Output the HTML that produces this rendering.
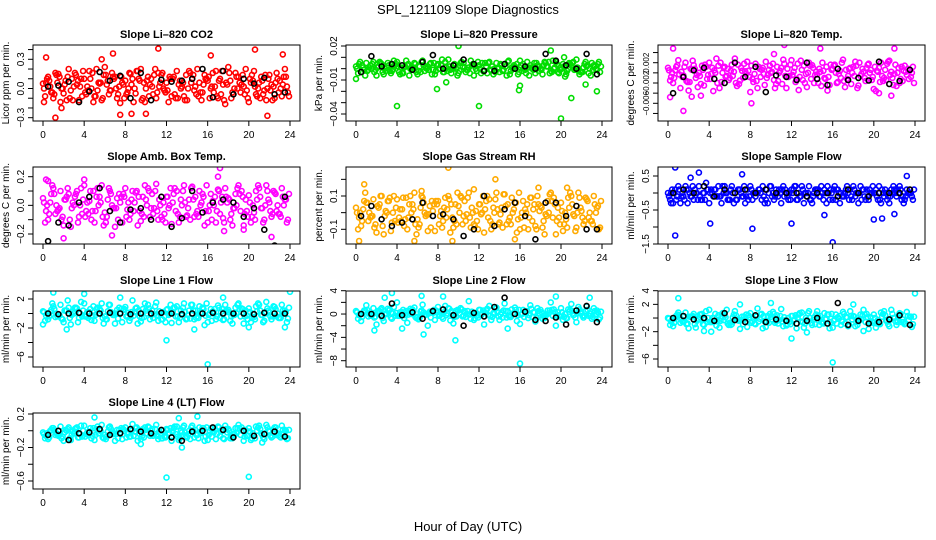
<!DOCTYPE html>
<html><head><meta charset="utf-8">
<style>
html,body{margin:0;padding:0;background:#fff;}
svg{display:block;font-family:"Liberation Sans",sans-serif;}
</style></head>
<body>
<svg id="chart" width="936" height="540" viewBox="0 0 936 540">
<text x="468" y="14" text-anchor="middle" font-size="13">SPL_121109  Slope Diagnostics</text>
<text x="468" y="531" text-anchor="middle" font-size="13">Hour of Day (UTC)</text>
</svg>
<script>
// ---- data (values in stated units per panel) ----
const xTicks=[0,4,8,12,16,20,24];
// CO2, unit 0.01 ppm/min
const co2A=[5,12,-10,15,-5,20,2,-12,10,18,-8,5,22,-2,12,-15,8,15,-5,20,0,10,-10,14,6,-8,18,2,-12,10,20,-4,8,16,-10,4,22,-6,12,2,-14,18,6,-2,14,-10,8,20];
const co2B=[-8,2,16,-14,8,-2,14,10,-6,0,20,-12,4,16,-10,6,-4,10,18,-10,12,-6,16,0,-14,12,4,-8,18,-2,6,14,-10,2,10,-16,8,16,-4,20,6,-6,12,-12,4,16,-8,2];
const co2C=[10,-4,6,0,12,-12,8,18,-2,-14,6,14,-6,10,2,-10,16,0,8,-14,4,20,6,-4,10,-10,0,14,6,-6,-12,10,2,-8,18,4,-4,0,14,-10,8,0,-6,10,2,-4,12,-8];
const co2D=[0,8,-6,12,4,-10,16,2,-4,10,-8,6,14,-2,0,12,-6,4,18,-12,8,2,-4,16,-2,10,-10,6,0,14,-8,4,12,-4,8,-12,16,0,6,-6,10,2,-10,14,-2,6,0,12];
const co2E=[6,-4,14,0,-12,10,4,-8,2,16,-2,-10,8,12,-6,4,0,-14,10,6,-8,14,2,-2,12,-6,8,-12,16,2,-4,10,0,18,-6,6,-10,12,4,-2,14,-8,8,0,-12,10,4,-4];
const co2Blk=[2,3,7,-14,-3,17,8,13,-10,16,-12,9,7,8,10,20,-9,18,-6,10,5,11,-6,-4];
const co2OutT=[1.2,0.3,6.8,11.2,20.6,21.8,7.5,1.8,16.3,8.6,10,5.7,0.1,23.3];
const co2OutV=[-30,32,36,41,40,-28,-27,-20,34,-26,-26,30,-14,35];
// Pressure, unit 0.001 kPa/min
const presA=[2,-3,5,0,-6,4,1,-2,6,-4,3,0,-5,7,2,-1,4,-3,8,0,-4,5,1,-6,3,-2,6,0,-3,4,-5,2,7,-1,3,-4,0,5,-2,6,1,-5,3,8,-3,2,5,-1];
const presB=[-4,1,-1,6,2,-5,3,7,-3,1,-6,5,2,-2,4,-5,0,6,-1,3,5,-3,7,0,-4,2,-1,5,3,-6,1,4,-2,6,0,3,-5,2,7,-3,4,0,6,-2,1,-4,3,6];
const presC=[6,-6,3,-1,5,-2,-4,4,1,7,-1,-3,6,0,-5,3,8,-2,1,-6,2,-1,4,6,-2,5,-5,1,-1,7,3,-3,0,-6,5,2,6,-4,1,-1,-7,4,0,-3,6,-6,0,2];
const presD=[0,3,-2,4,1,-3,5,-1,2,-4,4,1,-2,3,-1,5,0,-3,2,4,-2,1,-4,3,0,5,-1,-3,4,2,-2,0,3,-4,1,5,-1,2,-3,4,0,-2,5,1,-3,3,-1,4];
const presE=[4,-1,1,-3,6,0,-2,3,-5,2,0,4,-3,1,5,-2,3,1,-4,0,6,-1,3,-2,5,-4,2,0,-2,6,0,-5,4,1,-1,-2,3,6,0,-4,2,5,-1,-5,4,0,2,-3];
const presBlk=[-3,11,2,4,3,-1,6,12,0,3,8,4,-2,-2,4,0,2,0,13,7,3,0,13,-5];
const presOutT=[4,12,20,21,7.9,10,19,0,23.5,16,8.8,20.3,15.9,22.4];
const presOutV=[-33,-33,-44,-26,-18,20,16,-9,-20,-15,-12,10,-19,-14];
// Li-820 temp, unit 0.0001 C/min
const tempA=[10,-20,25,-5,-35,15,0,-25,20,5,-30,12,-10,28,-15,3,-38,18,-8,22,0,-22,10,-30,25,-12,6,-28,15,-3,20,-35,8,-18,26,-6,12,-25,2,18,-32,10,-10,24,-2,-20,14,5];
const tempB=[-15,5,-30,20,8,-10,-22,12,-2,28,-18,-6,16,-26,4,22,-12,-30,10,-4,18,-16,26,-8,2,-34,14,20,-20,8,-10,-24,16,4,-28,10,22,-6,-16,6,-36,20,-14,2,-26,12,-4,0];
const tempC=[0,15,-8,-18,24,-28,6,-4,-36,14,10,-14,2,-22,18,-8,-2,8,-24,14,-30,4,-6,16,-18,24,-2,-12,2,-26,12,6,-20,20,-12,0,-30,8,16,-8,2,-16,22,-24,10,4,-12,-20];
const tempD=[5,-10,-3,12,-18,8,-6,16,-12,0,20,-8,4,-20,10,-2,14,-16,6,-10,2,12,-22,8,-4,18,-14,0,10,-20,4,-8,14,-2,-16,8,-6,20,-10,0,12,-18,6,-4,16,-12,2,-8];
const tempE=[-8,12,2,-16,6,-4,14,-12,10,-20,0,8,-6,16,-10,4,-18,12,-2,6,-14,0,18,-6,10,-8,-20,14,-4,2,-12,16,0,-10,6,-22,14,-2,10,-14,4,-6,18,-10,0,-16,8,12];
const tempBlk=[-40,-8,5,10,-12,-20,20,-8,12,-38,-5,-8,-14,20,-12,-24,8,-14,-10,-15,22,-22,-16,6];
const tempOutT=[1.5,7.6,8.1,11.3,0.5,22,0.2,2.3,3.2,21.7,20.5,14.8,10.3];
const tempOutV=[-75,65,-60,55,48,48,-48,-47,-45,-45,-40,48,37];
// Amb box temp, unit 0.01 C/min
const ambA=[5,-10,12,-3,-14,8,0,-8,14,3,-12,6,-5,10,-15,2,12,-6,9,-11,4,-2,15,-8,6,-13,10,0,-7,13,-4,8,-12,3,11,-9,5,-2,14,-14,7,-5,12,-10,2,9,-6,4];
const ambB=[-12,2,-6,10,4,-15,8,12,-4,-10,6,14,-8,0,5,-12,-3,10,-14,6,12,-6,-10,2,-2,8,-12,14,4,-8,10,-14,0,6,-6,12,-10,8,-4,4,-12,10,-2,14,-8,-4,12,-12];
const ambC=[0,14,-4,-8,12,2,-12,4,-6,10,0,-14,12,-2,8,6,-10,2,-4,14,-8,10,0,-12,12,-4,4,-8,12,-6,2,14,-10,-4,6,2,-14,12,6,-8,0,14,-12,4,10,-6,0,8];
const ambD=[2,-6,8,-2,4,-10,6,0,-8,10,-4,2,-12,8,-2,6,-8,4,10,-6,0,8,-4,-10,6,2,-6,10,-2,4,-8,6,-4,0,10,-12,4,-2,8,-6,2,-10,6,0,-4,8,-8,4];
const ambE=[-4,8,0,-10,6,-2,10,-6,2,-4,12,-8,4,-2,-10,8,2,-4,6,-8,10,-2,4,-6,0,12,-8,2,-10,6,0,-4,8,-12,2,6,-6,0,10,-4,-8,4,-2,10,-6,0,6,-10];
const ambBlk=[-25,-12,-14,2,6,12,-4,-12,-3,-2,-10,6,-15,-9,10,-5,2,4,2,-8,-2,-17,-28,6];
const ambOutT=[2,6.7,17.2,22.2,0.3,17,17.6,19.5,4,0.5];
const ambOutV=[-23,-21,26,-22,18,20,-18,-17,18,17];
// Gas stream RH, unit 0.01 %/min
const rhA=[3,-8,6,-2,-12,10,0,-6,8,2,-10,5,-4,9,-11,1,7,-5,10,-9,4,-2,12,-7,5,-12,8,0,-6,11,-3,6,-10,2,9,-8,4,-1,12,-13,6,-4,10,-9,1,8,-5,3];
const rhB=[-10,2,-5,8,3,-13,7,10,-3,-8,5,12,-7,0,4,-11,-2,9,-12,5,10,-5,-9,1,-1,7,-10,12,3,-7,9,-12,0,5,-5,10,-9,7,-3,3,-11,9,-1,12,-7,-3,10,-10];
const rhC=[0,12,-3,-7,10,1,-11,3,-5,9,0,-13,10,-1,7,5,-9,2,-3,12,-7,9,0,-10,10,-3,3,-7,11,-5,2,12,-9,-3,5,1,-13,11,5,-7,0,12,-11,3,9,-5,0,7];
const rhD=[0,-5,6,-2,4,-8,7,0,-6,9,-3,2,-9,6,-1,5,-7,3,8,-5,0,7,-3,-8,5,2,-5,8,-1,4,-7,6,-3,0,9,-10,3,-2,7,-5,1,-9,5,0,-3,7,-7,4];
const rhE=[-3,7,0,-9,5,-2,9,-5,2,-4,10,-7,3,-2,-9,7,1,-3,5,-7,9,-1,3,-5,0,10,-7,2,-9,5,0,-4,7,-10,2,5,-5,0,9,-3,-7,3,-2,9,-5,0,5,-9];
const rhBlk=[-2,4,-4,-8,-6,-4,6,-2,-1,-4,-14,-10,10,-8,2,6,-2,-16,6,6,-2,4,-10,-10];
const rhOutT=[9,13.6,0.8,0.3,5.7,9.4,6.4,17.8,20.6,15.5,11.5];
const rhOutV=[27,20,17,-17,-17,-17,13,15,15,-16,14];
// Sample flow, unit 0.1 ml/min/min
const smpA=[0,-3,2,-1,1,-2,2,0,-3,1,-1,2,-2,0,1,-3,2,-1,0,-2,2,1,-3,0,1,-2,2,-1,-3,1,0,2,-2,1,-1,0,2,-3,1,-2,0,2,-1,-3,1,2,-2,0];
const smpB=[-2,1,-3,2,-1,0,-2,3,1,-1,-3,0,2,-2,-1,1,-2,0,2,-3,0,-1,2,-2,1,0,-3,2,0,-1,1,-2,2,-3,0,1,-1,2,-2,0,1,-3,0,1,-1,-2,1,-1];
const smpC=[1,-1,0,-3,2,-2,0,1,-1,2,0,-2,-3,1,2,-1,0,1,-3,2,-1,0,1,-2,2,-1,0,-2,1,2,-3,0,1,-1,2,-2,0,1,-1,2,-2,0,-1,2,0,-3,0,1];
const smpD=[-1,0,1,-2,0,1,-1,-2,0,1,-1,0,1,-2,0,-1,1,0,-2,1,-1,0,1,-1,0,-2,1,0,-1,1,-2,0,1,0,-1,-2,1,0,-1,1,0,-2,1,-1,0,1,-1,0];
const smpE=[0,-2,-1,1,-1,0,-2,1,0,-1,2,-2,0,1,-1,-2,0,1,-1,0,-2,1,-1,0,2,-1,0,-2,1,-1,0,1,-2,0,1,-1,0,-2,1,0,-1,1,-2,0,1,-1,0,-2];
const smpBlk=[0,1,0,2,-1,1,0,1,0,1,0,0,0,-1,0,0,-1,1,0,-1,0,0,0,1];
const smpOutT=[0.7,4.1,8.2,12,15.2,16,20,20.8,22,0.7,3,7.2,23.2,2.2,0.3];
const smpOutV=[-12.5,-9,-10.5,-9,-6.5,-14.5,-7.8,-7.5,-6.2,7.5,6,5.5,5,4.5,-3];
// Line 1 flow, unit 0.1
const l1A=[3,-8,10,-2,-12,8,0,-6,14,2,-10,6,-4,12,-14,1,9,-6,7,-11,4,-2,15,-8,5,-13,10,0,-7,12,-4,8,-12,3,11,-9,5,-2,14,-14,7,-5,12,-10,2,9,-6,4];
const l1B=[-10,2,-5,12,4,-15,8,16,-4,-9,6,14,-8,0,5,-12,-3,18,-14,6,12,-6,-10,2,-2,8,-12,14,4,-8,10,-16,0,6,-6,12,-10,8,-4,4,-12,10,-2,16,-8,-4,12,-12];
const l1C=[0,14,-4,-8,18,2,-12,4,-6,10,0,-14,12,-2,8,6,-10,2,-4,14,-8,10,0,-12,12,-4,4,-8,12,-6,2,14,-10,-4,6,2,-14,12,6,-8,0,14,-12,4,10,-6,0,8];
const l1D=[2,-4,6,-2,4,-6,8,0,-4,6,-2,4,-8,2,0,6,-4,2,8,-6,0,4,-2,-8,6,2,-4,8,-2,4,-6,6,-2,0,8,-8,2,-2,6,-4,2,-8,4,0,-4,6,-6,2];
const l1E=[-3,5,0,-7,4,-2,7,-4,2,-3,8,-6,3,-2,-7,5,1,-3,4,-5,7,-1,3,-4,0,8,-6,2,-7,4,0,-3,6,-8,2,4,-4,0,7,-3,-6,3,-2,7,-4,0,4,-7];
const l1Blk=[0,-1,0,1,0,0,1,0,-1,0,0,1,0,-1,0,0,1,0,0,0,-1,1,0,0];
const l1OutT=[12,16,1,24,4,2.3,14.7,0,23.5,20,7.5,17.5];
const l1OutV=[-37,-70,29,30,27,-22,-22,-15,-19,-19,22,22];
// Line 2 flow, unit 0.1
const l2A=[5,-12,15,-3,-18,10,0,-8,20,3,-15,8,-5,16,-20,2,12,-8,10,-16,6,-3,22,-10,7,-18,14,0,-10,18,-5,11,-17,4,15,-13,7,-3,20,-20,10,-7,17,-14,3,13,-8,6];
const l2B=[-8,3,-4,10,4,-12,6,12,-3,-7,5,11,-6,0,4,-10,-2,14,-11,5,10,-5,-8,2,-2,6,-10,11,3,-6,8,-12,0,5,-5,10,-8,6,-3,3,-10,8,-2,12,-6,-3,10,-9];
const l2C=[0,6,-2,-4,8,1,-6,2,-3,5,0,-7,6,-1,4,3,-5,1,-2,7,-4,5,0,-6,6,-2,2,-4,6,-3,1,7,-5,-2,3,1,-7,6,3,-4,0,7,-6,2,5,-3,0,4];
const l2D=[3,-5,7,-1,5,-7,9,1,-3,7,-1,5,-9,3,1,7,-3,3,9,-5,1,5,-1,-7,7,3,-3,9,-1,5,-5,7,-1,1,9,-7,3,-1,7,-3,3,-7,5,1,-3,7,-5,3];
const l2E=[-2,6,1,-6,5,-1,8,-3,3,-2,9,-5,4,-1,-6,6,2,-2,5,-4,8,0,4,-3,1,9,-5,3,-6,5,1,-2,7,-7,3,5,-3,1,8,-2,-5,4,-1,8,-3,1,5,-6];
const l2Blk=[0,0,-3,18,-2,3,-8,5,8,-2,-20,2,-4,12,28,0,4,-10,-12,-6,-18,6,14,-14];
const l2OutT=[16,9.7,3.5,4.5,6.6,1.8,14.8,19.5,2.8,8.5,6.4,22.8];
const l2OutV=[-85,-45,36,-25,-35,-28,-25,30,28,30,31,28];
// Line 3 flow, unit 0.1
const l3A=[0,-12,8,-5,-15,6,-2,-10,12,0,-14,4,-7,10,-16,-1,7,-9,5,-13,2,-5,13,-11,3,-15,8,-3,-10,10,-7,5,-14,1,9,-12,3,-5,12,-16,5,-8,10,-12,0,7,-9,2];
const l3B=[-10,0,-7,8,2,-14,5,10,-6,-11,3,12,-9,-3,2,-13,-5,14,-15,3,9,-8,-12,0,-4,5,-14,10,1,-10,7,-15,-2,3,-8,10,-12,5,-6,1,-14,8,-4,12,-10,-6,9,-13];
const l3C=[-3,5,-5,-8,3,-1,-9,0,-6,4,-3,-10,5,-4,2,1,-8,-1,-5,6,-7,3,-3,-9,4,-5,0,-7,5,-6,-1,6,-8,-5,1,-2,-10,4,1,-7,-3,6,-9,0,3,-6,-3,2];
const l3D=[-1,-7,4,-4,2,-9,5,-2,-6,6,-4,1,-10,4,-3,5,-7,2,6,-6,-2,4,-5,-9,3,0,-6,7,-3,2,-8,5,-4,-1,6,-10,2,-3,5,-6,0,-9,4,-2,-5,6,-8,2];
const l3E=[-5,3,-2,-9,2,-4,6,-6,0,-5,7,-8,1,-3,-9,4,-1,-5,3,-7,6,-3,1,-6,-2,7,-8,0,-9,3,-2,-6,5,-10,1,3,-6,-2,6,-5,-8,2,-4,6,-6,-2,3,-9];
const l3Blk=[0,3,-2,0,-4,7,-3,-6,4,-6,-2,-4,-8,-4,0,-8,22,-10,-4,-8,-6,-2,4,-10];
const l3OutT=[16,12,24,1,4.2,7,10,18,19,3.5,13.5];
const l3OutV=[-65,-30,36,29,-20,20,22,20,-19,-19,-21];
// Line 4 (LT) flow, unit 0.01
const l4A=[-2,-10,3,-6,-12,4,-3,-8,6,-1,-11,2,-5,5,-12,-2,4,-7,3,-10,1,-4,7,-9,2,-12,5,-2,-8,6,-5,3,-11,0,5,-9,2,-4,7,-12,3,-6,6,-10,-1,4,-7,1];
const l4B=[-9,0,-5,5,1,-11,3,6,-4,-9,2,7,-7,-2,1,-10,-4,8,-12,2,5,-6,-10,0,-3,3,-11,6,0,-8,4,-12,-1,2,-6,6,-9,3,-5,1,-11,5,-3,7,-8,-5,6,-10];
const l4C=[-3,3,-4,-7,2,-1,-8,0,-5,3,-3,-9,4,-3,1,0,-7,-1,-4,4,-6,2,-3,-8,3,-4,0,-6,4,-5,-1,4,-7,-4,1,-2,-9,3,0,-6,-3,4,-8,0,2,-5,-3,1];
const l4D=[-4,-8,1,-5,-2,-9,2,-4,-7,3,-5,0,-10,2,-4,3,-8,0,4,-7,-3,2,-6,-9,1,-2,-7,4,-4,0,-9,3,-5,-2,4,-10,0,-4,3,-7,-1,-9,2,-3,-6,4,-8,0];
const l4E=[-6,1,-3,-9,0,-5,4,-7,-2,-6,5,-8,-1,-4,-9,2,-2,-6,1,-8,4,-4,-1,-7,-3,5,-9,-2,-10,1,-3,-7,3,-10,-1,2,-7,-3,4,-6,-9,0,-5,4,-7,-3,1,-9];
const l4Blk=[-5,0,-11,-3,-2,2,-5,-3,2,-1,-3,1,-8,-12,-1,0,4,1,-8,0,-6,-4,-1,-7];
const l4OutT=[4,12,20,5,15,13.5,9.5,21.3,13.2];
const l4OutV=[-74,-56,-55,16,17,-20,-16,-14,15];

// ---- layout (not data) ----
const cols=[{l:33,r:300,x0:43,x24:290},{l:346,r:612,x0:356,x24:602},{l:658,r:925,x0:668,x24:915}];
const rows=[{t:45,b:121},{t:167,b:244},{t:291,b:367},{t:413,b:489}];
const panels=[
 {id:'co2',c:0,r:0,title:'Slope Li\u2013820 CO2',ylab:'Licor ppm per min.',col:'#ff0000',unit:0.01,v1:0.3,p1:59.3,v2:-0.3,p2:117.7,tk:[-0.3,-0.2,-0.1,0,0.1,0.2,0.3,0.4],lb:[0.3,0,-0.3],lt:['0.3','0.0','\u22120.3'],fs:10,d:[co2A,co2B,co2C,co2D,co2E],blk:co2Blk,ot:co2OutT,ov:co2OutV},
 {id:'pressure',c:1,r:0,title:'Slope Li\u2013820 Pressure',ylab:'kPa per min.',col:'#00dd00',unit:0.001,v1:0.02,p1:46,v2:-0.04,p2:114,tk:[-0.04,-0.03,-0.02,-0.01,0,0.01,0.02],lb:[0.02,-0.01,-0.04],lt:['0.02','\u22120.01','\u22120.04'],fs:10,d:[presA,presB,presC,presD,presE],blk:presBlk,ot:presOutT,ov:presOutV},
 {id:'li820-temp',c:2,r:0,title:'Slope Li\u2013820 Temp.',ylab:'degrees C per min.',col:'#ff00ff',unit:0.0001,v1:0.002,p1:62.7,v2:-0.006,p2:103.3,tk:[-0.008,-0.006,-0.004,-0.002,0,0.002,0.004],lb:[0.002,-0.002,-0.006],lt:['0.002','\u22120.002','\u22120.006'],fs:8,d:[tempA,tempB,tempC,tempD,tempE],blk:tempBlk,ot:tempOutT,ov:tempOutV},
 {id:'amb-box-temp',c:0,r:1,title:'Slope Amb. Box Temp.',ylab:'degrees C per min.',col:'#ff00ff',unit:0.01,v1:0.2,p1:176.7,v2:-0.2,p2:234,tk:[-0.2,-0.1,0,0.1,0.2],lb:[0.2,0,-0.2],lt:['0.2','0.0','\u22120.2'],fs:10,d:[ambA,ambB,ambC,ambD,ambE],blk:ambBlk,ot:ambOutT,ov:ambOutV},
 {id:'gas-stream-rh',c:1,r:1,title:'Slope Gas Stream RH',ylab:'percent per min.',col:'#ffaa00',unit:0.01,v1:0.1,p1:196,v2:-0.1,p2:229.3,tk:[-0.1,0,0.1,0.2],lb:[0.1,-0.1],lt:['0.1','\u22120.1'],fs:10,d:[rhA,rhB,rhC,rhD,rhE],blk:rhBlk,ot:rhOutT,ov:rhOutV},
 {id:'sample-flow',c:2,r:1,title:'Slope Sample Flow',ylab:'ml/min per min.',col:'#0000ff',unit:0.1,v1:0.5,p1:176,v2:-1.5,p2:244,tk:[-1.5,-1,-0.5,0,0.5],lb:[0.5,-0.5,-1.5],lt:['0.5','\u22120.5','\u22121.5'],fs:10,d:[smpA,smpB,smpC,smpD,smpE],blk:smpBlk,ot:smpOutT,ov:smpOutV},
 {id:'line1-flow',c:0,r:2,title:'Slope Line 1 Flow',ylab:'ml/min per min.',col:'#00ffff',unit:0.1,v1:2,p1:299,v2:-6,p2:357,tk:[-6,-4,-2,0,2],lb:[2,-2,-6],lt:['2','\u22122','\u22126'],fs:10,d:[l1A,l1B,l1C,l1D,l1E],blk:l1Blk,ot:l1OutT,ov:l1OutV},
 {id:'line2-flow',c:1,r:2,title:'Slope Line 2 Flow',ylab:'ml/min per min.',col:'#00ffff',unit:0.1,v1:4,p1:290.7,v2:-8,p2:360.7,tk:[-8,-6,-4,-2,0,2,4],lb:[4,0,-4,-8],lt:['4','0','\u22124','\u22128'],fs:10,d:[l2A,l2B,l2C,l2D,l2E],blk:l2Blk,ot:l2OutT,ov:l2OutV},
 {id:'line3-flow',c:2,r:2,title:'Slope Line 3 Flow',ylab:'ml/min per min.',col:'#00ffff',unit:0.1,v1:4,p1:290.7,v2:-6,p2:359,tk:[-6,-4,-2,0,2,4],lb:[4,2,-2,-6],lt:['4','2','\u22122','\u22126'],fs:10,d:[l3A,l3B,l3C,l3D,l3E],blk:l3Blk,ot:l3OutT,ov:l3OutV},
 {id:'line4-flow',c:0,r:3,title:'Slope Line 4 (LT) Flow',ylab:'ml/min per min.',col:'#00ffff',unit:0.01,v1:0.2,p1:414,v2:-0.6,p2:481,tk:[-0.6,-0.4,-0.2,0,0.2],lb:[0.2,-0.2,-0.6],lt:['0.2','\u22120.2','\u22120.6'],fs:10,d:[l4A,l4B,l4C,l4D,l4E],blk:l4Blk,ot:l4OutT,ov:l4OutV}
];
const NS='http://www.w3.org/2000/svg';
const svg=document.getElementById('chart');
function mk(tag,attrs,parent){const e=document.createElementNS(NS,tag);for(const k in attrs)e.setAttribute(k,attrs[k]);(parent||svg).appendChild(e);return e;}
function dot(g,x,y,col){const c=mk('circle',{cx:x.toFixed(1),cy:y.toFixed(1),r:2.5,fill:'none',stroke:col,'stroke-width':1.6},g);

}
panels.forEach(p=>{
 const C=cols[p.c],R=rows[p.r];
 const xs=t=>C.x0+(C.x24-C.x0)*t/24;
 const ys=v=>p.p1+(v-p.v1)*(p.p2-p.p1)/(p.v2-p.v1);
 const g=mk('g',{});
 
 
 const cl=mk('clipPath',{id:'clip-'+p.id},g);
 mk('rect',{x:C.l,y:R.t,width:C.r-C.l,height:R.b-R.t},cl);
 const pts=mk('g',{'clip-path':'url(#clip-'+p.id+')'},g);
 
 
 const offs=[0,0.2,0.4,0.1,0.3];
 p.d.forEach((arr,k)=>arr.forEach((v,i)=>dot(pts,xs(i*0.5+offs[k]),ys(v*p.unit),p.col)));
 p.ot.forEach((t,i)=>dot(pts,xs(t),ys(p.ov[i]*p.unit),p.col));
 p.blk.forEach((v,i)=>dot(pts,xs(i+0.5),ys(v*p.unit),'#000'));
 const box=mk('rect',{x:C.l,y:R.t,width:C.r-C.l,height:R.b-R.t,fill:'none',stroke:'#000','stroke-width':1},g);
 
 
 const tt=mk('text',{x:(C.l+C.r)/2,y:R.t-7,'text-anchor':'middle','font-size':11,'font-weight':'bold'},g);
 tt.textContent=p.title;
 
 
 mk('line',{x1:xs(0),x2:xs(24),y1:R.b,y2:R.b,stroke:'#000'},g);
 xTicks.forEach(t=>{
  mk('line',{x1:xs(t),x2:xs(t),y1:R.b,y2:R.b+5,stroke:'#000'},g);
  const l=mk('text',{x:xs(t),y:R.b+17,'text-anchor':'middle','font-size':10},g);
  l.textContent=t;
  
  
 });
 p.tk.forEach(v=>mk('line',{x1:C.l-5,x2:C.l,y1:ys(v),y2:ys(v),stroke:'#000'},g));
 p.lb.forEach((v,i)=>{
  const y=ys(v),x=C.l-9;
  const l=mk('text',{x:x,y:y,'text-anchor':'middle','font-size':p.fs,transform:'rotate(-90 '+x+' '+y+')'},g);
  l.textContent=p.lt[i];
  
  
 });
 const yx=C.l-24,yy=(R.t+R.b)/2;
 const yl=mk('text',{x:yx,y:yy,'text-anchor':'middle','font-size':10,transform:'rotate(-90 '+yx+' '+yy+')'},g);
 yl.textContent=p.ylab;
 
 
});
</script>
</body></html>
